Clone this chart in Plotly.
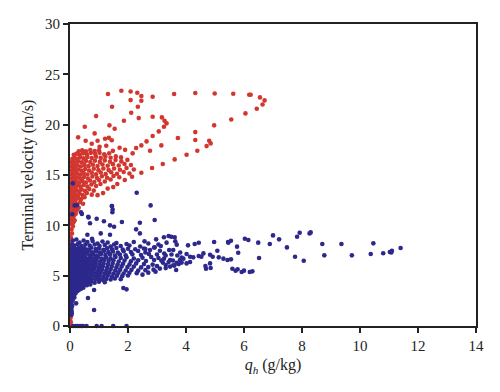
import plotly.graph_objects as go

# ---- red series (x = q_h, y = terminal velocity) ----
red_column = [(0.02,0.1),(0.03,0.4),(0.02,0.8),(0.04,1.2),(0.03,1.6),(0.02,2.0),(0.04,2.4),(0.03,2.8),(0.02,3.2),(0.04,3.6),(0.03,4.0),(0.02,4.5),(0.04,5.0),(0.03,5.5),(0.02,6.0),(0.04,6.5),(0.03,7.0),(0.02,7.5),(0.04,8.0),(0.06,8.4),(0.03,8.8),(0.07,9.2),(0.05,9.6),(0.1,9.9),
    (0.03,10.2),(0.07,10.1),(0.12,10.3),(0.05,10.6),(0.1,10.7),(0.16,10.5),(0.03,11.0),(0.08,11.1),(0.14,10.95),(0.2,11.15),(0.05,11.4),(0.11,11.5),(0.18,11.35),(0.25,11.55),(0.03,11.8),(0.08,11.85),(0.14,11.7),(0.21,11.9),(0.3,11.75),(0.05,12.2),(0.1,12.1),(0.17,12.25),(0.24,12.1),(0.34,12.3),(0.45,12.15)]

red_bubble = [(0.03,12.6),(0.08,12.5),(0.13,12.7),(0.2,12.55),(0.28,12.75),(0.38,12.6),(0.5,12.8),(0.05,13.0),(0.11,12.95),(0.17,13.1),(0.25,12.95),(0.33,13.15),(0.44,13.0),(0.58,13.2),(0.75,13.05),(0.95,13.0),(1.14,13.2),
    (0.03,13.4),(0.08,13.45),(0.14,13.35),(0.22,13.5),(0.3,13.38),(0.4,13.55),(0.52,13.42),(0.66,13.6),(0.82,13.45),(1.3,13.65),(1.49,13.8),(0.05,13.8),(0.11,13.9),(0.18,13.75),(0.26,13.95),(0.36,13.82),(0.47,14.0),(0.6,13.85),(0.74,14.05),(0.9,13.9),(1.05,14.1),
    (0.03,14.2),(0.08,14.3),(0.15,14.15),(0.23,14.35),(0.32,14.22),(0.43,14.4),(0.55,14.25),(0.69,14.45),(0.84,14.3),(1.0,14.5),(1.2,14.35),(1.4,14.55),
    (0.05,14.65),(0.1,14.7),(0.17,14.6),(0.26,14.75),(0.36,14.62),(0.48,14.8),(0.62,14.65),(0.77,14.85),(0.93,14.7),(1.1,14.88),(1.28,14.72),(1.5,14.9),(1.7,14.78),
    (0.03,15.05),(0.09,15.1),(0.16,15.0),(0.25,15.15),(0.35,15.02),(0.47,15.2),(0.6,15.05),(0.75,15.22),(0.9,15.08),(1.06,15.25),(1.23,15.1),(1.42,15.28),(1.62,15.12),(1.85,15.3),(2.05,15.15),
    (0.05,15.45),(0.1,15.5),(0.18,15.4),(0.28,15.55),(0.39,15.42),(0.52,15.6),(0.66,15.45),(0.82,15.62),(0.98,15.48),(1.15,15.65),(1.33,15.5),(1.52,15.65),(1.72,15.52),(1.95,15.7),(2.2,15.55),
    (0.04,15.85),(0.1,15.9),(0.17,15.8),(0.26,15.95),(0.37,15.85),(0.5,16.0),(0.64,15.88),(0.79,16.02),(0.95,15.9),(1.12,16.05),(1.3,15.92),(1.48,16.08),(1.68,15.95),(1.88,16.1),(2.1,16.0),
    (0.05,16.25),(0.11,16.3),(0.19,16.2),(0.29,16.35),(0.41,16.25),(0.55,16.4),(0.7,16.28),(0.86,16.42),(1.03,16.3),(1.2,16.45),(1.38,16.32),(1.57,16.48),(1.77,16.35),(1.98,16.5),
    (0.08,16.6),(0.15,16.7),(0.24,16.6),(0.35,16.75),(0.47,16.65),(0.6,16.8),(0.75,16.68),(0.9,16.82),(1.06,16.7),(1.22,16.85),(1.4,16.72),(1.58,16.85),(1.76,16.75),
    (0.13,17.0),(0.22,17.1),(0.33,17.0),(0.45,17.15),(0.58,17.05),(0.72,17.2),(0.87,17.08),(1.02,17.2),(1.18,17.05),(1.35,17.15),
    (0.3,17.35),(0.42,17.45),(0.55,17.35),(0.7,17.48),(0.85,17.38),(1.0,17.45)]

red_arcs = [(0.54,18.4),(0.95,18.4),(1.21,18.6),(1.34,18.7),(1.44,18.45),(0.75,18.1),(1.02,17.8),(1.25,17.9),(1.71,17.7),(1.9,17.5),(1.48,17.4),
    (1.31,23.04),(1.77,23.37),(2.09,23.3),(2.32,23.17),(2.46,22.84),(2.85,22.77),(2.09,22.44),(2.46,22.38),(1.45,21.78),(2.34,21.78),(2.11,21.18),(0.9,20.85),(1.86,20.39),(2.37,20.65),(2.85,20.79),(3.17,20.72),(3.26,20.39),(3.33,20.13),(3.24,19.79),(1.36,19.93),(0.51,19.79),(1.54,19.59),(3.06,19.33),(0.85,19.13),(0.28,18.74),(2.85,18.87),(2.64,18.34),(2.46,17.94),(3.15,17.94),(2.76,17.41),(2.28,17.68),(2.16,17.15),
    (3.59,23.04),(4.32,23.14),(4.99,23.1),(5.63,23.07),(6.18,22.97),(6.05,21.12),(5.56,20.52),(4.97,19.93),(4.32,19.26),(3.72,18.67),(4.32,18.47),(4.8,18.4),(4.85,18.14),(4.71,17.87),(4.39,17.41),(4.02,17.01),(3.61,16.55),(3.2,16.09),(2.83,15.69),(2.46,15.23),(2.14,14.83),(1.89,14.5),(1.63,14.1),
    (6.23,22.97),(6.55,22.71),(6.71,22.41),(6.64,22.01),(6.44,21.58)]

# ---- blue series ----
blue_core = [(0.1,8.5),(0.22,8.6),(0.33,8.3),(0.47,8.5),(0.6,8.35),(0.78,8.45),(0.95,8.2),(1.12,8.4),(1.3,8.3),(1.6,8.25),(1.95,8.15),(2.2,8.35),
    (0.07,8.1),(0.16,8.0),(0.27,8.15),(0.4,7.95),(0.53,8.1),(0.68,8.0),(0.85,8.1),(1.02,7.95),(1.2,8.05),(1.4,7.9),(1.52,8.1),(1.75,7.95),(2.05,8.0),(2.42,7.9),
    (0.05,7.7),(0.12,7.8),(0.2,7.65),(0.3,7.75),(0.38,7.6),(0.5,7.72),(0.62,7.6),(0.73,7.78),(0.88,7.65),(1.0,7.7),(1.15,7.58),(1.28,7.72),(1.45,7.62),(1.6,7.75),(1.82,7.6),(2.0,7.68),(2.25,7.62),(2.55,7.7),
    (0.05,7.4),(0.1,7.5),(0.17,7.35),(0.25,7.45),(0.34,7.3),(0.44,7.42),(0.55,7.35),(0.66,7.48),(0.77,7.32),(0.9,7.42),(1.03,7.3),(1.17,7.45),(1.32,7.35),(1.48,7.4),(1.65,7.3),(1.85,7.42),(2.1,7.35),(2.35,7.45),(2.6,7.3),
    (0.05,7.1),(0.09,7.2),(0.15,7.05),(0.22,7.15),(0.3,7.0),(0.39,7.12),(0.48,7.05),(0.58,7.18),(0.69,7.02),(0.8,7.12),(0.93,7.0),(1.07,7.15),(1.22,7.05),(1.38,7.12),(1.55,7.0),(1.72,7.1),(1.92,7.02),(2.15,7.12),(2.45,7.05),(2.72,7.15),(3.0,7.1),(3.25,7.2),
    (0.05,6.8),(0.09,6.9),(0.14,6.75),(0.2,6.85),(0.27,6.72),(0.35,6.88),(0.43,6.75),(0.52,6.85),(0.62,6.7),(0.72,6.82),(0.84,6.72),(0.97,6.85),(1.1,6.7),(1.25,6.8),(1.4,6.72),(1.57,6.85),(1.75,6.75),(1.95,6.82),(2.2,6.7),(2.5,6.78),(2.8,6.85),(3.05,6.75),
    (0.05,6.5),(0.08,6.6),(0.13,6.45),(0.19,6.55),(0.25,6.42),(0.32,6.58),(0.4,6.45),(0.49,6.55),(0.58,6.4),(0.68,6.52),(0.79,6.45),(0.91,6.58),(1.04,6.42),(1.18,6.55),(1.33,6.45),(1.5,6.52),(1.68,6.4),(1.88,6.5),(2.1,6.42),(2.35,6.52),(2.62,6.45),(2.9,6.55),(3.15,6.5),
    (0.05,6.2),(0.08,6.3),(0.12,6.15),(0.18,6.25),(0.24,6.1),(0.31,6.22),(0.39,6.12),(0.47,6.25),(0.56,6.1),(0.66,6.22),(0.77,6.12),(0.89,6.25),(1.02,6.1),(1.16,6.2),(1.31,6.12),(1.47,6.22),(1.64,6.1),(1.83,6.18),(2.05,6.12),(2.28,6.22),(2.55,6.15),(2.85,6.1),
    (0.05,5.9),(0.08,6.0),(0.12,5.85),(0.17,5.95),(0.23,5.82),(0.3,5.95),(0.37,5.85),(0.45,5.95),(0.54,5.8),(0.64,5.92),(0.75,5.82),(0.87,5.95),(1.0,5.85),(1.13,5.92),(1.28,5.8),(1.44,5.9),(1.6,5.82),(1.78,5.92),(1.98,5.85),(2.2,5.9),(2.45,5.82),(2.7,5.85),(3.0,5.95),(3.3,6.05),
    (0.05,5.6),(0.08,5.7),(0.12,5.55),(0.17,5.65),(0.22,5.52),(0.29,5.65),(0.36,5.55),(0.44,5.65),(0.53,5.5),(0.63,5.62),(0.73,5.52),(0.85,5.65),(0.98,5.55),(1.11,5.6),(1.25,5.5),(1.4,5.62),(1.56,5.52),(1.73,5.6),(1.92,5.52),(2.12,5.58),(2.35,5.5),(2.6,5.55),(2.88,5.6),
    (0.05,5.3),(0.08,5.4),(0.11,5.25),(0.16,5.35),(0.21,5.22),(0.27,5.35),(0.34,5.25),(0.42,5.35),(0.5,5.2),(0.6,5.32),(0.7,5.22),(0.81,5.35),(0.93,5.25),(1.06,5.3),(1.2,5.2),(1.35,5.3),(1.5,5.22),(1.67,5.3),(1.85,5.22),(2.05,5.28),(2.3,5.25),
    (0.05,5.0),(0.08,5.1),(0.11,4.95),(0.15,5.05),(0.2,4.92),(0.26,5.05),(0.33,4.95),(0.4,5.05),(0.48,4.9),(0.57,5.02),(0.67,4.92),(0.78,5.05),(0.9,4.95),(1.02,5.0),(1.15,4.9),(1.3,5.0),(1.45,4.92),(1.62,5.0),(1.8,4.95),(2.0,5.02),
    (0.05,4.7),(0.08,4.8),(0.11,4.65),(0.15,4.75),(0.2,4.62),(0.25,4.75),(0.31,4.65),(0.38,4.75),(0.46,4.6),(0.55,4.72),(0.64,4.62),(0.75,4.72),(0.87,4.65),(1.0,4.7),(1.12,4.6),(1.25,4.68),(1.4,4.62),(1.55,4.72),(1.75,4.65),
    (0.05,4.4),(0.08,4.5),(0.11,4.35),(0.14,4.45),(0.18,4.32),(0.23,4.45),(0.29,4.35),(0.36,4.45),(0.43,4.3),(0.52,4.42),(0.62,4.35),(0.73,4.42),(0.85,4.3),(1.0,4.4),(1.2,4.35),
    (0.05,4.1),(0.08,4.2),(0.1,4.05),(0.13,4.15),(0.17,4.02),(0.22,4.15),(0.27,4.05),(0.33,4.15),(0.4,4.0),(0.48,4.12),(0.58,4.05),(0.7,4.12),
    (0.05,3.8),(0.07,3.9),(0.1,3.75),(0.13,3.85),(0.16,3.72),(0.2,3.85),(0.25,3.75),(0.31,3.85),(0.38,3.7),(0.46,3.8),
    (0.05,3.5),(0.07,3.6),(0.1,3.45),(0.12,3.55),(0.15,3.42),(0.19,3.55),(0.24,3.45),(0.3,3.55),
    (0.04,3.2),(0.07,3.3),(0.09,3.15),(0.12,3.25),(0.15,3.12),(0.19,3.25),
    (0.04,2.9),(0.07,3.0),(0.09,2.85),(0.12,2.95),(0.15,2.82),
    (0.04,2.6),(0.07,2.7),(0.09,2.55),(0.05,2.3),(0.07,2.0),(0.05,1.7),(0.06,1.4),(0.05,1.1),
    (2.5,5.1),(2.7,5.3),(2.95,5.4),(3.1,5.7),(3.3,5.75),(3.45,5.9),(3.6,6.0),(3.75,6.15),(3.85,6.3),(3.2,6.3),(3.4,6.35),(3.55,6.5),(3.3,7.0),(3.5,7.1),(3.7,7.0),(3.85,6.8),(2.6,7.65),(2.9,7.8),(3.05,8.1),(2.7,8.2),(3.8,7.3)]

blue_tail = [(2.57,8.41),(2.97,8.61),(3.24,8.81),(3.40,8.94),(3.49,8.87),(3.61,8.81),(3.63,8.41),(3.68,8.08),(3.33,8.28),(3.13,7.94),(2.92,7.81),(2.76,7.55),(4.07,8.01),(4.3,8.14),(4.44,8.27),(4.97,8.34),(5.45,8.34),(5.08,7.48),(4.02,7.15),(4.6,7.21),(4.83,7.08),(4.14,6.88),(4.25,6.82),(4.44,6.95),(4.53,6.88),(4.92,6.88),(5.13,6.82),(5.29,6.69),(5.43,6.55),(3.79,6.55),(3.91,6.69),(3.68,6.29),(3.56,6.03),(3.66,5.56),(4.67,5.96),(4.83,6.22),(4.69,5.69),(4.85,5.76),(4.02,6.22),(4.14,6.36),(3.45,6.55),(3.24,6.69),(3.1,7.48),(3.42,7.55),(3.56,7.55),
    (5.46,8.28),(5.55,8.47),(6.03,8.67),(6.15,8.54),(6.49,8.28),(7.0,9.0),(7.21,8.61),(6.89,8.14),(7.48,7.81),(7.83,8.87),(7.92,9.27),(8.26,9.2),(8.3,9.3),(8.7,8.14),(5.76,7.88),(5.8,7.28),(5.55,6.62),(6.52,6.75),(7.76,6.88),(8.06,6.48),(8.77,7.02),(5.6,5.69),(5.71,5.49),(5.78,5.63),(5.92,5.36),(6.0,5.5),(6.2,5.36),(6.29,5.43),
    (9.36,8.14),(9.72,7.02),(10.46,8.21),(10.37,7.15),(10.8,7.22),(11.03,7.35),(11.1,7.48),(11.08,7.3),(11.4,7.75)]

blue_outliers = [(0.16,11.98),(0.41,11.12),(1.45,11.92),(1.47,11.58),(2.78,11.98),(2.92,10.53),(0.64,10.79),(0.92,10.66),(1.17,10.4),(0.69,10.2),(1.38,10.0),(1.52,9.86),(1.79,10.33),(2.28,9.6),(1.06,9.2),(1.38,9.07),(0.6,9.07),(0.76,8.67),(2.41,9.2),(2.41,10.26),
    (0.1,14.17),(2.3,13.24),(1.44,11.92),(1.46,11.3),(0.24,12.0),(0.08,11.1),(0.38,11.3),(0.63,10.85),
    (0.21,2.25),(0.62,2.78),(0.83,3.57),(1.84,3.77),(1.95,3.64),(0.83,1.59),(0.07,1.99),(0.05,1.26),
    (0.11,0),(0.2,0),(0.25,0),(0.34,0),(0.4,0),(0.45,0),(0.57,0),(0.92,0),(1.09,0),(1.49,0),(1.95,0)]

x_ticks = [0, 2, 4, 6, 8, 10, 12, 14]
y_ticks = [0, 5, 10, 15, 20, 25, 30]

RED = "#d2372f"
BLUE = "#2c288c"

red = red_column + red_bubble + red_arcs
blue = blue_core + blue_tail + blue_outliers

fig = go.Figure()
fig.add_trace(go.Scatter(x=[p[0] for p in red], y=[p[1] for p in red], mode="markers",
                         marker=dict(color=RED, size=4.6), showlegend=False, cliponaxis=False))
fig.add_trace(go.Scatter(x=[p[0] for p in blue], y=[p[1] for p in blue], mode="markers",
                         marker=dict(color=BLUE, size=4.6), showlegend=False, cliponaxis=False))

font_family = "Liberation Serif, Times New Roman, serif"
# the page body adds an 8px offset, so the figure is sized to fit the 500x392 window
fig.update_layout(
    width=492, height=384,
    margin=dict(l=62, r=24, t=16, b=66),
    paper_bgcolor="white", plot_bgcolor="white",
    font=dict(family=font_family, size=15, color="#222"),
)
fig.update_xaxes(range=[0, 14], tickvals=x_ticks, ticks="outside", ticklen=5, tickwidth=1.5,
                 tickcolor="#222", showline=True, linecolor="#222", linewidth=2, mirror=True,
                 showgrid=False, zeroline=False, automargin=False,
                 tickfont=dict(size=15),
                 title=dict(text="<i>q<sub>h</sub></i> (g/kg)", font=dict(size=16), standoff=6))
fig.update_yaxes(range=[0, 30], tickvals=y_ticks, ticks="outside", ticklen=5, tickwidth=1.5,
                 tickcolor="#222", showline=True, linecolor="#222", linewidth=2, mirror=True,
                 showgrid=False, zeroline=False, automargin=False,
                 tickfont=dict(size=15),
                 title=dict(text="Terminal velocity (m/s)", font=dict(size=16), standoff=7))

fig.write_html("out.html")
